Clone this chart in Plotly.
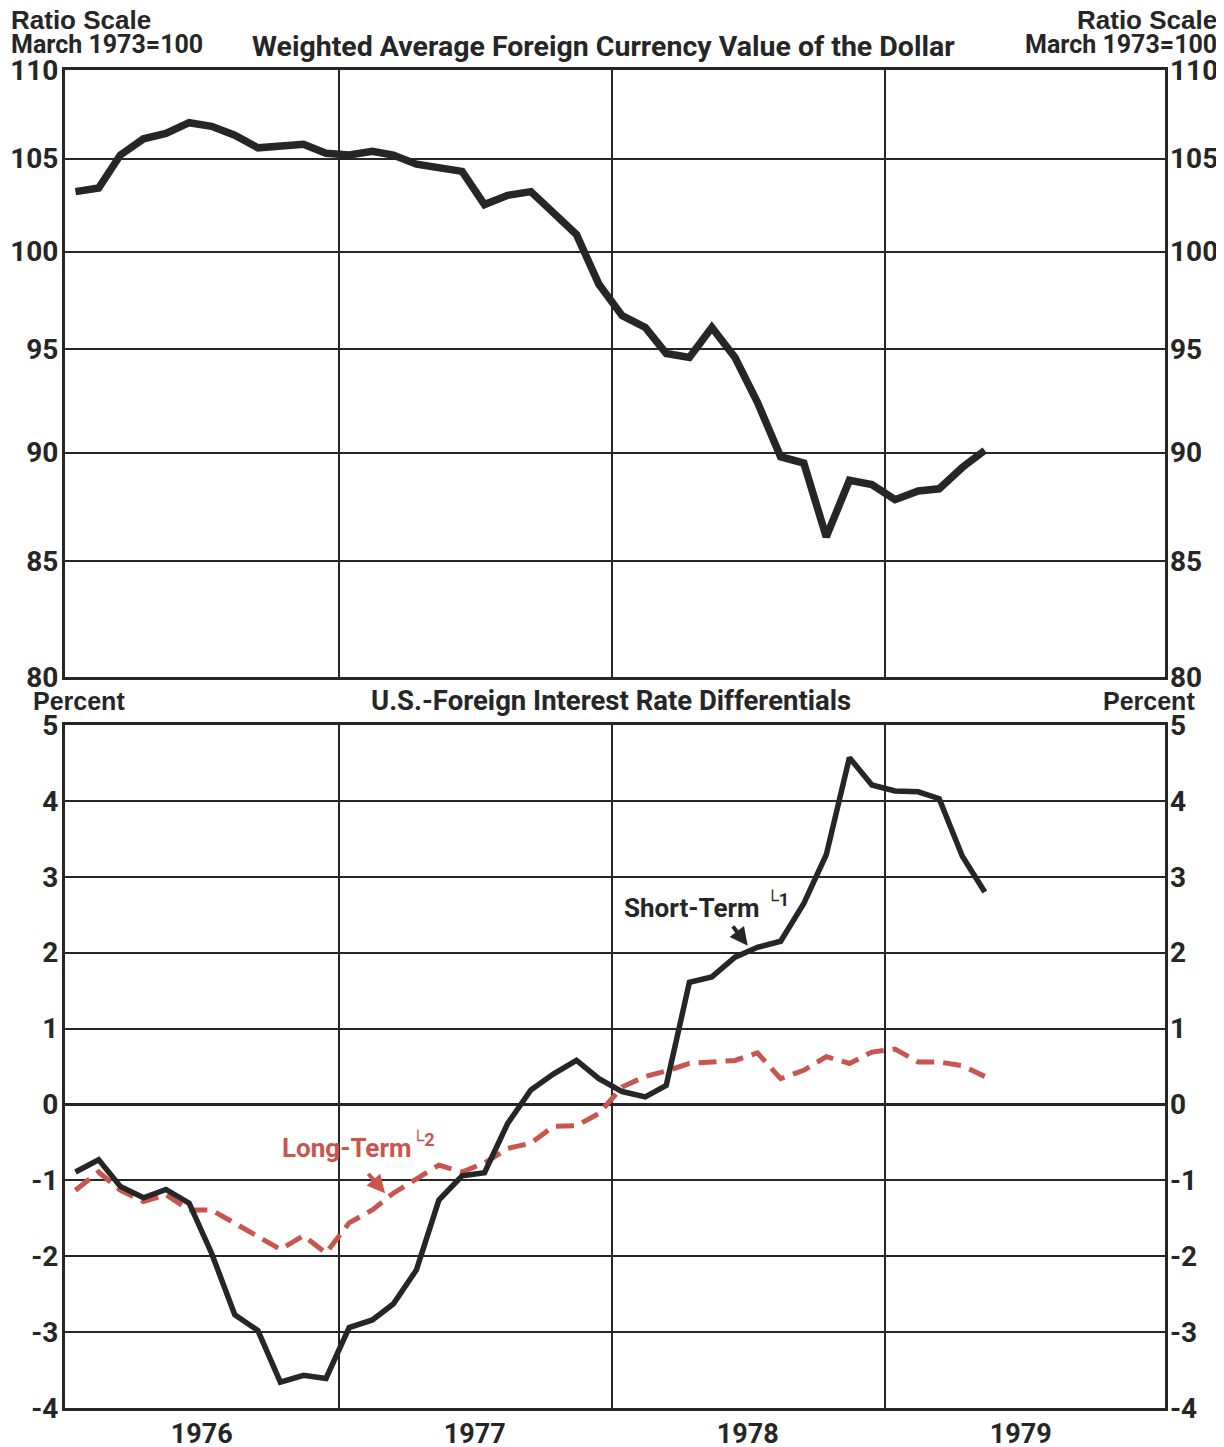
import plotly.graph_objects as go

# ---------------- data ----------------
months = [f"{1976 + i // 12}-{i % 12 + 1:02d}-15" for i in range(41)]  # Jan 1976 .. May 1979

dollar_index = [103.2, 103.4, 105.2, 106.1, 106.4, 107.0, 106.8, 106.3, 105.6, 105.7,
                105.8, 105.3, 105.2, 105.4, 105.2, 104.7, 104.5, 104.3, 102.5, 103.0,
                103.2, 102.0, 100.9, 98.3, 96.7, 96.1, 94.8, 94.6, 96.1, 94.6,
                92.4, 89.8, 89.5, 86.1, 88.7, 88.5, 87.8, 88.2, 88.3, 89.3, 90.1]

short_term = [-0.89, -0.73, -1.08, -1.23, -1.12, -1.30, -1.96, -2.77, -2.98, -3.66,
              -3.57, -3.61, -2.94, -2.84, -2.63, -2.18, -1.26, -0.94, -0.90, -0.25,
              0.19, 0.40, 0.58, 0.34, 0.17, 0.10, 0.25, 1.61, 1.68, 1.94,
              2.07, 2.15, 2.65, 3.29, 4.57, 4.21, 4.13, 4.12, 4.03, 3.27, 2.80]

long_term = [-1.13, -0.89, -1.13, -1.28, -1.19, -1.39, -1.39, -1.56, -1.74, -1.91,
             -1.73, -1.96, -1.56, -1.39, -1.17, -0.99, -0.80, -0.89, -0.77, -0.58,
             -0.51, -0.29, -0.28, -0.12, 0.23, 0.37, 0.44, 0.54, 0.56, 0.58,
             0.68, 0.34, 0.45, 0.63, 0.54, 0.69, 0.73, 0.56, 0.56, 0.51, 0.37]

year_labels = ["1976", "1977", "1978", "1979"]
year_label_pos = ["1976-07-02", "1977-07-02", "1978-07-02", "1979-07-02"]
year_bounds = ["1977-01-01", "1978-01-01", "1979-01-01"]
x_range = ["1976-01-01", "1980-01-11"]

top_ticks = [80, 85, 90, 95, 100, 105, 110]
bottom_ticks = [-4, -3, -2, -1, 0, 1, 2, 3, 4, 5]

# ---------------- style ----------------
INK = "#262626"
RED = "#c9554e"
NARROW = "Roboto, Liberation Sans, Arial, sans-serif"
WIDE = "Liberation Sans, Arial, sans-serif"

OFF = 8  # page body margin offset
W, H = 1216, 1439
ML = 65 - OFF
MT = 70 - OFF
MR = W - (1165 - OFF)
MB = H - (1408 - OFF)
PW, PH = W - ML - MR, H - MT - MB


def px(xp):
    return (xp - OFF - ML) / PW


def py(yp):
    return (H - MB - (yp - OFF)) / PH


top_dom = [py(677), 1.0]
bot_dom = [0.0, py(725)]

fig = go.Figure()

fig.add_trace(go.Scatter(x=months, y=dollar_index, xaxis="x", yaxis="y", mode="lines",
                         line=dict(color=INK, width=7.5), hoverinfo="skip", showlegend=False))
fig.add_trace(go.Scatter(x=months, y=dollar_index, xaxis="x", yaxis="y3", mode="lines",
                         line=dict(color=INK, width=7), opacity=0, hoverinfo="skip", showlegend=False))
fig.add_trace(go.Scatter(x=months, y=long_term, xaxis="x2", yaxis="y2", mode="lines",
                         line=dict(color=RED, width=5, dash="18px,9px"), hoverinfo="skip", showlegend=False))
fig.add_trace(go.Scatter(x=months, y=short_term, xaxis="x2", yaxis="y2", mode="lines",
                         line=dict(color=INK, width=5.5), hoverinfo="skip", showlegend=False))
fig.add_trace(go.Scatter(x=months, y=short_term, xaxis="x2", yaxis="y4", mode="lines",
                         line=dict(color=INK, width=5.5), opacity=0, hoverinfo="skip", showlegend=False))

tickfont = dict(family=NARROW, size=28, color=INK, weight="bold")

xcommon = dict(type="date", range=x_range, showline=True, linewidth=3, linecolor=INK, mirror=True,
               showgrid=False, zeroline=False, ticks="", automargin=False,
               minor=dict(tickmode="array", tickvals=year_bounds, showgrid=True,
                          gridcolor=INK, gridwidth=1.6, ticks=""))

fig.update_layout(
    width=W, height=H,
    margin=dict(l=ML, r=MR, t=MT, b=MB, autoexpand=False),
    paper_bgcolor="white", plot_bgcolor="white",
    showlegend=False,
    xaxis=dict(**xcommon, domain=[0, 1], anchor="y", showticklabels=False,
               tickvals=year_label_pos, ticktext=year_labels),
    xaxis2=dict(**xcommon, domain=[0, 1], anchor="y2", showticklabels=True,
                tickmode="array", tickvals=year_label_pos, ticktext=year_labels,
                tickfont=dict(family=NARROW, size=27, color=INK, weight="bold")),
    yaxis=dict(domain=top_dom, anchor="x", type="log", range=[1.903090, 2.041393],
               tickmode="array", tickvals=top_ticks, ticktext=[str(v) for v in top_ticks],
               showgrid=True, gridcolor=INK, gridwidth=1.6, zeroline=False,
               showline=True, linewidth=3, linecolor=INK, mirror=True, ticks="",
               tickfont=tickfont, automargin=False, ticklabelstandoff=-2),
    yaxis3=dict(overlaying="y", side="right", anchor="x", type="log", range=[1.903090, 2.041393],
                tickmode="array", tickvals=top_ticks, ticktext=[str(v) for v in top_ticks],
                showgrid=False, zeroline=False, showline=False, ticks="", tickfont=tickfont,
                automargin=False, ticklabelstandoff=4),
    yaxis2=dict(domain=bot_dom, anchor="x2", range=[-4, 5],
                tickmode="array", tickvals=bottom_ticks, ticktext=[str(v) for v in bottom_ticks],
                showgrid=True, gridcolor=INK, gridwidth=1.6,
                zeroline=True, zerolinecolor=INK, zerolinewidth=3,
                showline=True, linewidth=3, linecolor=INK, mirror=True, ticks="",
                tickfont=tickfont, automargin=False, ticklabelstandoff=-2),
    yaxis4=dict(overlaying="y2", side="right", anchor="x2", range=[-4, 5],
                tickmode="array", tickvals=bottom_ticks, ticktext=[str(v) for v in bottom_ticks],
                showgrid=False, zeroline=False, showline=False, ticks="", tickfont=tickfont,
                automargin=False, ticklabelstandoff=4),
)

ann = []


def label(text, xp, yp, xanchor, size, family=NARROW, color=INK):
    ann.append(dict(text=text, x=px(xp), y=py(yp), xref="paper", yref="paper",
                    xanchor=xanchor, yanchor="middle", showarrow=False,
                    font=dict(family=family, size=size, color=color, weight="bold")))


label("Ratio Scale", 9, 20, "left", 26, WIDE)
label("March 1973=100", 9, 45, "left", 25)
label("Ratio Scale", 1219, 20, "right", 26, WIDE)
label("March 1973=100", 1219, 45, "right", 25)
label("Weighted Average Foreign Currency Value of the Dollar", 603, 47, "center", 28.5)
label("Percent", 31, 701, "left", 25, WIDE)
label("Percent", 1197, 701, "right", 25, WIDE)
label("U.S.-Foreign Interest Rate Differentials", 611, 701, "center", 27.5)

# series labels
ann.append(dict(text="Short-Term <sup>└1</sup>", x="1978-01-15", y=2.62,
                xref="x2", yref="y2", xanchor="left", yanchor="middle", showarrow=False,
                font=dict(family=NARROW, size=26, color=INK, weight="bold")))
ann.append(dict(text="Long-Term<sup>└2</sup>", x="1976-10-14", y=-0.55,
                xref="x2", yref="y2", xanchor="left", yanchor="middle", showarrow=False,
                font=dict(family=NARROW, size=26, color=RED, weight="bold")))
# pointer arrows
ann.append(dict(text="", x="1978-07-02", y=2.09, xref="x2", yref="y2", showarrow=True,
                arrowhead=2, arrowsize=0.9, arrowwidth=4, arrowcolor=INK, ax=-16, ay=-21,
                standoff=0))
ann.append(dict(text="", x="1977-03-04", y=-1.17, xref="x2", yref="y2", showarrow=True,
                arrowhead=2, arrowsize=0.9, arrowwidth=4, arrowcolor=RED, ax=-18, ay=-21,
                standoff=0))

fig.update_layout(annotations=ann)

fig.write_html("out.html")
